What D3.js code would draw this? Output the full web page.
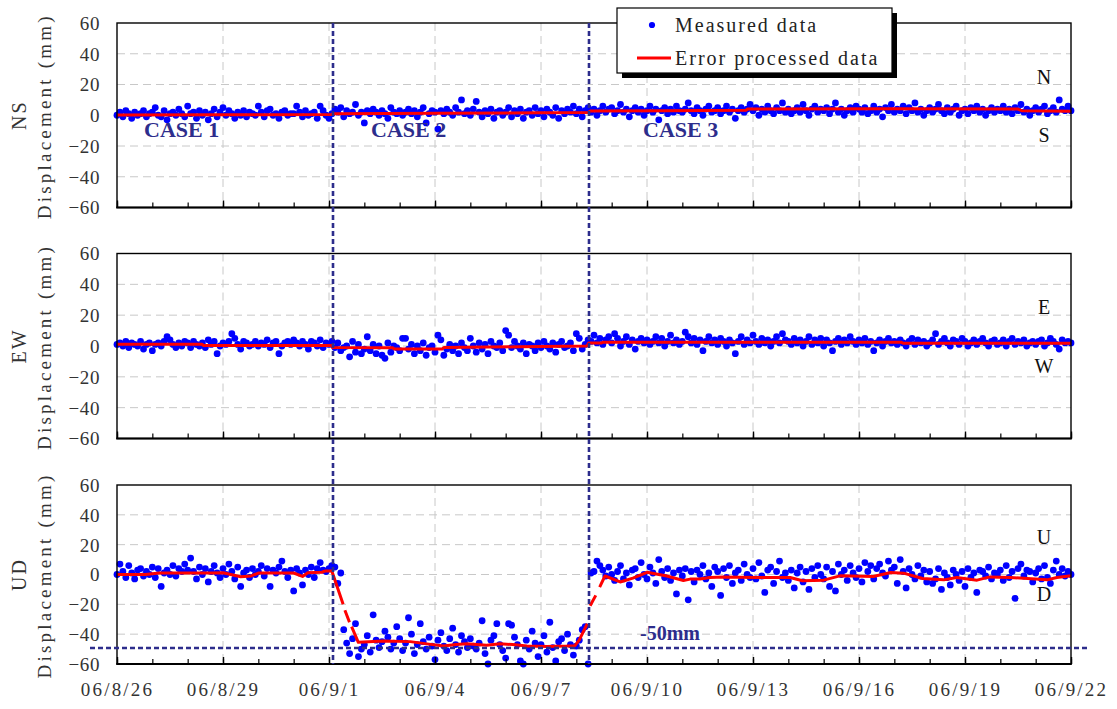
<!DOCTYPE html>
<html><head><meta charset="utf-8">
<script src="https://cdn.jsdelivr.net/npm/d3@7"></script>
<style>
body{margin:0;background:#fff}
svg{display:block}
text{font-family:"Liberation Serif","DejaVu Serif",serif}
</style>
</head><body>
<svg id="chart" width="1117" height="709"></svg>
<script>
// ---------------- DATA ----------------
const startDate = new Date(2006, 7, 26, 0, 0);   // 06/8/26 00:00
const endDate   = new Date(2006, 8, 22, 0, 0);   // 06/9/22 00:00
const sampleHours = 2;                            // measured data every 2 hours
const tickLabels = ["06/8/26","06/8/29","06/9/1","06/9/4","06/9/7","06/9/10","06/9/13","06/9/16","06/9/19","06/9/22"];
const yTicks = [-60, -40, -20, 0, 20, 40, 60];
const componentNames = ["NS", "EW", "UD"];
const positiveLabels = ["N", "E", "U"];
const negativeLabels = ["S", "W", "D"];
const caseLabels = ["CASE 1", "CASE 2", "CASE 3"];
const eventDays = [6.11, 13.36];     // days after 06/8/26 where the cases change
const thresholdValue = -49;          // "-50mm" reference line (UD)
const thresholdLabel = "-50mm";
const legendLabels = ["Measured data", "Error processed data"];

// measured NS (mm), one row per day, 12 samples per day
const nsMeasured = [
  0, 2, -1, 3, 1, -2, 2, 0, 1, 3, -1, 1,
  2, 5, 0, -1, 3, -3, 1, 2, 0, 4, 1, -1,
  6, 1, 2, -2, 3, 0, 2, -3, 1, 4, -1, 2,
  5, 0, 3, 1, -2, 2, 0, 3, -1, 2, 1, 0,
  6, 2, -1, 3, 4, 0, 1, -2, 2, 3, 0, 1,
  1, 6, 2, -1, 3, 0, 1, 2, -2, 6, 3, 0,
  -2, 1, 4, 2, 5, -1, 3, 1, 2, 7, 0, 2,
  -5, 3, 1, 4, 2, 0, 3, 1, -2, 5, 2, 1,
  3, 0, 2, 4, 1, 3, -1, 2, 5, -5, 1, 3,
  2, -9, 3, 1, 4, 2, 0, 5, 2, 10, 1, 3,
  0, 4, 9, 2, -1, 3, 1, 4, -2, 2, 3, 0,
  2, 5, -1, 3, 1, 4, -2, 2, 3, 0, 5, 1,
  3, -1, 4, 2, 0, 5, -2, 3, 1, 4, 2, 6,
  1, 4, -1, 3, 5, 2, 4, 0, 3, 6, 2, 4,
  5, 1, 3, 7, 2, 4, -1, 3, 5, 2, 4, 0,
  3, 6, 2, 4, -3, 3, 5, 1, 4, 2, 6, 3,
  2, 4, 8, 3, 1, 5, 3, 0, 4, 6, 2, 3,
  5, 1, 3, 6, 2, 4, -2, 3, 5, 2, 4, 7,
  3, 5, 0, 4, 2, 6, 3, 1, 5, 3, 8, 2,
  4, 1, 3, 5, 2, 7, 3, 0, 4, 6, 2, 4,
  3, 5, 1, 4, 8, 2, 4, 0, 3, 5, 2, 6,
  4, 2, 5, 1, 3, 6, 2, 4, -1, 5, 3, 7,
  2, 4, 3, 6, 1, 5, 3, 8, 2, 4, 0, 3,
  5, 2, 4, 7, 3, 1, 5, 2, 4, 6, 0, 3,
  4, 1, 5, 3, 6, 2, 4, 0, 3, 5, 2, 4,
  3, 6, 2, 4, 1, 5, 3, 7, 2, 4, 0, 3,
  5, 2, 4, 6, 1, 3, 5, 2, 10, 4, 3, 6,
  3
];
// measured EW (mm)
const ewMeasured = [
  1, 2, 0, 3, -1, 2, 1, 0, 3, -2, 1, 2,
  -3, 1, 2, 0, 3, 6, 4, 1, -1, 2, 0, 3,
  2, -1, 3, 1, 0, 2, -1, 4, 1, 3, -5, 0,
  2, 1, 3, 8, 5, 1, -2, 3, 2, 0, 1, 3,
  0, 2, 1, 4, -1, 2, 3, -5, 0, 2, 3, 1,
  4, 2, 0, 3, 1, -2, 3, 2, 0, 4, -1, 2,
  1, 3, -1, 2, -3, -1, 0, -7, 3, -4, 1, -5,
  -2, 6, -3, 1, -5, 0, -6, -8, 2, -4, 0, -1,
  -3, 5, 5, -2, 1, -5, 0, -3, 2, -6, -1, 0,
  -4, 7, 4, -6, -2, 1, -3, 0, -5, 2, -1, -3,
  5, 0, -4, 2, -2, 1, -5, 3, 0, -1, 2, -3,
  10, 7, -1, 3, 0, -2, 2, -5, 1, 0, -3, 2,
  -1, 3, 0, -2, 2, -4, 1, 3, -1, 0, 2, -3,
  8, 5, -2, 1, 4, 3, 7, 2, 5, 1, 4, 6,
  2, 8, 5, 0, 3, 6, 1, 4, -2, 3, 5, 2,
  4, 1, 3, 6, 2, 5, 0, 3, 7, 2, 4, 1,
  3, 9, 6, 2, 5, 1, 4, -3, 3, 6, 2, 4,
  1, 5, 3, 0, 4, 2, -5, 3, 6, 1, 4, 2,
  7, 3, 1, 5, 2, 4, 0, 3, 6, 2, 8, 4,
  3, 1, 5, 2, 4, 0, 3, 6, 1, 4, 2, 5,
  0, 4, 2, -3, 3, 5, 1, 4, 2, 6, 3, 1,
  4, 2, 5, 1, 3, -3, 2, 4, 0, 3, 5, 2,
  3, 1, 4, 2, 0, 3, 5, 1, 4, 2, 3, 0,
  2, 4, 8, 1, 3, 5, 2, 0, 4, 3, 1, 5,
  3, 0, 2, 4, 1, 3, 5, 2, 0, 3, 4, 1,
  2, 4, 0, 3, 5, 1, 3, 2, 4, 0, 2, 3,
  1, 3, 4, 0, 2, 5, 3, 1, -2, 4, 2, 3,
  2
];
// measured UD (mm)
const udMeasured = [
  0, 7, 2, -2, 6, 1, -3, 3, 4, -1, 2, 0,
  5, -2, 4, -8, 1, 3, 0, 6, -1, 4, 2, 7,
  3, 11, 2, -3, 5, 0, 4, -5, 2, 6, 1, -2,
  4, 0, 7, 2, -3, 5, -8, 1, 3, -2, 4, 0,
  2, 6, -1, 4, -8, 3, 1, 5, 9, 2, -2, 3,
  -11, 4, 1, -7, 3, 0, 5, -2, 4, 8, 3, 2,
  4, 6, 5, -6, 1, -37, -46, -53, -43, -33, -55, -50,
  -47, -41, -52, -27, -44, -49, -45, -38, -42, -50, -46, -35,
  -43, -51, -46, -29, -40, -53, -47, -33, -45, -50, -42, -48,
  -57, -44, -39, -48, -51, -43, -36, -47, -52, -41, -45, -49,
  -43, -48, -50, -46, -31, -53, -60, -44, -41, -33, -47, -51,
  -56, -33, -34, -42, -47, -58, -60, -44, -50, -38, -46, -55,
  -47, -41, -52, -32, -49, -58, -45, -43, -51, -40, -47, -54,
  -48, -44, -37, -35, -60, 1, 2, 9, 6, 3, -1, 5,
  0, -4, 2, 6, -3, 1, -7, 3, 4, -2, 8, 0,
  -3, 5, 1, -6, 10, 2, -2, 4, -4, 1, -13, 3,
  -1, 4, -17, 2, -5, 3, 0, 6, -3, 1, -8, 5,
  2, -14, 4, -2, 6, -6, 1, 3, -4, 7, 0, -2,
  4, -3, 8, -1, -12, 3, 5, -6, 2, 9, -2, 1,
  -4, 3, -9, 1, 5, -5, 2, -10, 4, -2, 6, 0,
  -3, 5, -8, 2, -11, 7, 0, 3, -4, 6, 1, -2,
  4, -5, 8, 2, 6, -3, 4, 7, 1, -1, 9, 3,
  5, -6, 10, 2, -9, 4, 0, -3, 6, -1, 3, -5,
  2, -6, -3, 4, -10, 1, -2, -7, 3, 0, -4, 2,
  -8, 4, -2, 1, -12, 3, 2, -1, 5, -3, 1, 0,
  3, -4, 6, -2, 2, -16, 4, 7, -1, 3, 2, -5,
  1, 4, -3, 6, -2, -6, 3, 9, 0, 4, -1, 2,
  0
];

// error processed data (days after 06/8/26, value mm); null = break in line
const nsProcDays   = [0, 3, 6.08, 6.1, 9, 12, 13.33, 13.4, 15.5, 17.8, 17.85, 22, 25.5, 25.6, 27];
const nsProcValues = [0.2, 0.3, 0.5, 1, 1.3, 1.6, 1.8, 2.8, 3, 3.2, 4, 4.2, 4, 3, 2.6];
const ewProcDays   = [0, 2.4, 2.45, 6.08, 6.1, 7.8, 7.85, 9.2, 9.25, 11.4, 13.3, 13.35, 13.7, 13.75, 22.2, 22.25, 27];
const ewProcValues = [1.2, 1.2, 0.3, 0.3, -1, -1.2, -2, -2, -1, -0.5, 0, 1.9, 1.9, 2.4, 2.4, 1.8, 1.8];
const udProcDays   = [0, 0.8, 1.2, 2.7, 3.0, 3.5, 3.8, 4.0, 5.0, 5.25, 5.4, 5.8, 5.9, 6.08, 6.4, 6.42, 6.45, 6.58, 6.6, 6.64,
                      6.83, 7.54, 8.3, 8.77, 9.24, 9.6, 9.9, 10.46, 10.84, 11.2, 11.6, 12.16, 12.73, 12.96, 13.08, 13.31, 13.35, 13.39, 13.55, 13.6,
                      13.66, 13.81, 14.24, 14.6, 15.0, 15.56, 16.03, 16.22, 16.5, 16.78, 17.16, 18.1, 19.05, 19.4, 20.0, 20.46, 21.4, 21.9, 22.26, 22.8,
                      23.4, 23.77, 24.34, 24.7, 25.28, 26.32, 26.6, 27];
const udProcValues = [0, 0, 1, 1, 1.2, -1.5, -1, 1, 1, -1.3, 1.2, 1.5, 2.4, 2.4, -20, null, -24, -32, null, -35,
                      -45.5, -44.5, -45, -46.5, -48, -47, -46.5, -47.5, -46.5, -47, -48, -48.3, -48, -47.7, -44, -33, null, -21, -14, null,
                      -8.5, -1, -5, -2.4, 1.5, -1, -4, -3.1, -3, -2, -1.6, -2, -2, -4.2, -3.8, -0.9, -1.3, 1.3, 0.9, -2.7,
                      -3.6, -2, -3.8, -1.6, -2, -3.6, -2, -0.9];

// ---------------- LAYOUT ----------------
const W = 1117, H = 709;
const plotLeft = 117, plotRight = 1071;
const panelTops = [23, 253.5, 485];
const panelBottoms = [207.5, 438.5, 664];
const blue = "#0000ff", red = "#ff0000", navy = "#2d2d8c";
const textCol = "#333";

const svg = d3.select("#chart");
const x = d3.scaleTime().domain([startDate, endDate]).range([plotLeft, plotRight]);
const dayDate = d => new Date(startDate.getTime() + d * 86400000);
const majorDates = tickLabels.map((_, i) => d3.timeDay.offset(startDate, 3 * i));
const minorDates = d3.timeDay.range(startDate, d3.timeDay.offset(endDate, 1));

const measuredSets = [nsMeasured, ewMeasured, udMeasured];
const procSets = [[nsProcDays, nsProcValues], [ewProcDays, ewProcValues], [udProcDays, udProcValues]];

const yScales = panelTops.map((t, i) => d3.scaleLinear().domain([-60, 60]).range([panelBottoms[i], t]));

panelTops.forEach((top, p) => {
  const y = yScales[p];
  const bottom = panelBottoms[p];
  const g = svg.append("g");

  // horizontal grid
  g.selectAll(".hg").data(yTicks.filter(v => v > -60 && v < 60)).join("line")
    .attr("x1", plotLeft).attr("x2", plotRight)
    .attr("y1", d => y(d)).attr("y2", d => y(d))
    .attr("stroke", "#c8c8c8").attr("stroke-width", 1).attr("stroke-dasharray", "8,5");
  // vertical grid
  g.selectAll(".vg").data(majorDates.slice(1, -1)).join("line")
    .attr("x1", d => x(d)).attr("x2", d => x(d))
    .attr("y1", top).attr("y2", bottom)
    .attr("stroke", "#c8c8c8").attr("stroke-width", 1).attr("stroke-dasharray", "8,5");

  // y axis labels
  const ya = svg.append("g").attr("transform", `translate(${plotLeft - 17},0)`)
    .call(d3.axisLeft(y).tickValues(yTicks).tickSize(0).tickPadding(0));
  ya.select(".domain").remove();
  ya.selectAll("text").attr("font-family", "Liberation Serif").attr("font-size", 19)
    .attr("fill", textCol).attr("letter-spacing", "0.6px").attr("dy", "0.34em");

  // measured points
  const meas = measuredSets[p];
  g.selectAll(".pt").data(meas).join("circle")
    .attr("cx", (d, i) => x(new Date(startDate.getTime() + i * sampleHours * 3600000)))
    .attr("cy", d => y(d)).attr("r", 3.4).attr("fill", blue);

  // processed line
  const [pd, pv] = procSets[p];
  const pts = pd.map((d, i) => ({t: dayDate(d), v: pv[i]}));
  const line = d3.line().defined(d => d.v !== null).x(d => x(d.t)).y(d => y(d.v));
  g.append("path").attr("d", line(pts)).attr("fill", "none")
    .attr("stroke", red).attr("stroke-width", 3).attr("stroke-linejoin", "round");

  // minor + major ticks (inside)
  const minorAxis = svg.append("g").attr("transform", `translate(0,${bottom})`)
    .call(d3.axisBottom(x).tickValues(minorDates).tickSize(-5).tickFormat(""));
  minorAxis.select(".domain").remove();
  minorAxis.selectAll("line").attr("stroke", "#000").attr("stroke-width", 1.2);
  const majorAxis = svg.append("g").attr("transform", `translate(0,${bottom})`)
    .call(d3.axisBottom(x).tickValues(majorDates).tickSize(-7).tickPadding(0)
      .tickFormat((d, i) => p === 2 ? tickLabels[i] : ""));
  majorAxis.select(".domain").remove();
  majorAxis.selectAll("line").attr("stroke", "#000").attr("stroke-width", 1.4);
  majorAxis.selectAll("text").attr("font-family", "Liberation Serif").attr("font-size", 19)
    .attr("fill", textCol).attr("letter-spacing", "2.2px").attr("y", 32).attr("dy", 0);

  // frame
  svg.append("rect").attr("x", plotLeft).attr("y", top)
    .attr("width", plotRight - plotLeft).attr("height", bottom - top)
    .attr("fill", "none").attr("stroke", "#000").attr("stroke-width", 1.4);
  svg.append("line").attr("x1", plotLeft - 0.7).attr("x2", plotRight + 0.7)
    .attr("y1", bottom).attr("y2", bottom).attr("stroke", "#000").attr("stroke-width", 2.2);

  // y axis titles (rotated)
  const cy = (top + bottom) / 2;
  svg.append("text").attr("transform", `translate(26,${cy}) rotate(-90)`)
    .attr("text-anchor", "middle").attr("font-size", 20).attr("fill", textCol)
    .attr("letter-spacing", "2px").text(componentNames[p]);
  svg.append("text").attr("transform", `translate(51,${cy + 1}) rotate(-90)`)
    .attr("text-anchor", "middle").attr("font-size", 19).attr("fill", textCol)
    .attr("letter-spacing", "3.2px").text("Displacement (mm)");

  // direction labels
  svg.append("text").attr("x", 1044).attr("y", y(25) + 7).attr("text-anchor", "middle")
    .attr("font-size", 20).attr("fill", "#111").text(positiveLabels[p]);
  svg.append("text").attr("x", 1044).attr("y", y(-13) + 7).attr("text-anchor", "middle")
    .attr("font-size", 20).attr("fill", "#111").text(negativeLabels[p]);
});

// event (case boundary) lines
svg.selectAll(".ev").data(eventDays).join("line")
  .attr("x1", d => Math.round(x(dayDate(d)))).attr("x2", d => Math.round(x(dayDate(d))))
  .attr("y1", panelTops[0]).attr("y2", panelBottoms[2])
  .attr("stroke", navy).attr("stroke-width", 2.6).attr("stroke-dasharray", "5,3");

// threshold line in UD panel
const yUD = yScales[2];
svg.append("line").attr("x1", 90).attr("x2", 1087)
  .attr("y1", Math.round(yUD(thresholdValue))).attr("y2", Math.round(yUD(thresholdValue)))
  .attr("stroke", navy).attr("stroke-width", 2.6).attr("stroke-dasharray", "5,3");
svg.append("text").attr("x", 640).attr("y", yUD(thresholdValue) - 8)
  .attr("font-size", 20).attr("font-weight", "bold").attr("fill", navy).text(thresholdLabel);

// case labels
const caseX = [144, 371, 643];
caseLabels.forEach((c, i) => {
  svg.append("text").attr("x", caseX[i]).attr("y", yScales[0](-14))
    .attr("font-size", 22).attr("font-weight", "bold").attr("fill", navy).text(c);
});

// legend
const lg = svg.append("g");
lg.append("rect").attr("x", 622).attr("y", 13).attr("width", 275).attr("height", 65).attr("fill", "#000");
lg.append("rect").attr("x", 617).attr("y", 8).attr("width", 275).attr("height", 65)
  .attr("fill", "#fff").attr("stroke", "#000").attr("stroke-width", 1.2);
lg.append("circle").attr("cx", 652).attr("cy", 25).attr("r", 3.1).attr("fill", blue);
lg.append("text").attr("x", 675).attr("y", 32).attr("font-size", 20).attr("fill", "#222")
  .attr("letter-spacing", "2px").text(legendLabels[0]);
lg.append("line").attr("x1", 637).attr("x2", 671).attr("y1", 58).attr("y2", 58)
  .attr("stroke", red).attr("stroke-width", 3);
lg.append("text").attr("x", 675).attr("y", 65).attr("font-size", 20).attr("fill", "#222")
  .attr("letter-spacing", "2px").text(legendLabels[1]);
</script>
</body></html>
